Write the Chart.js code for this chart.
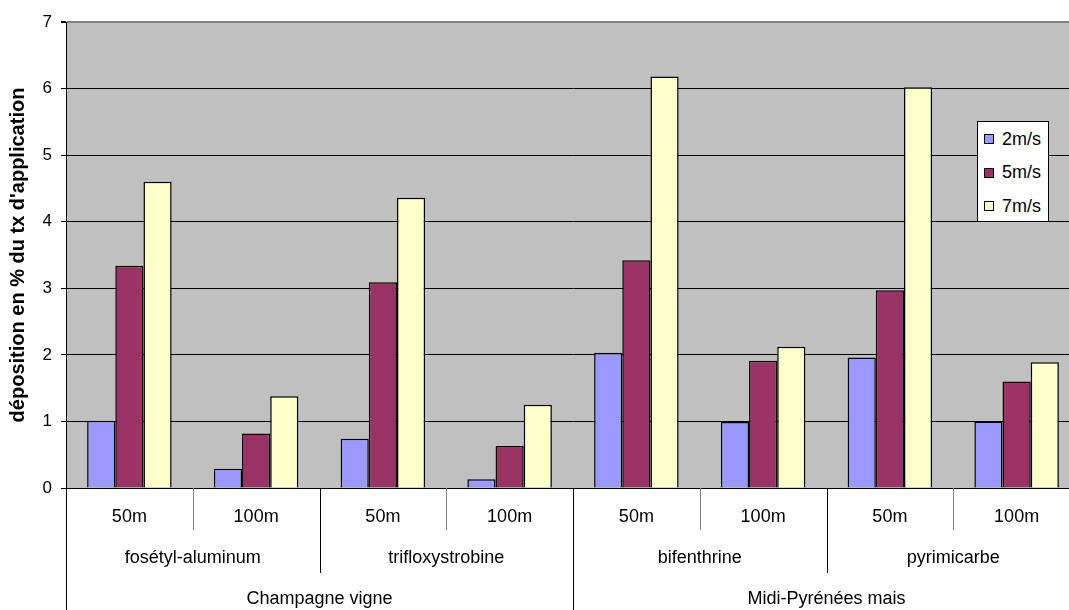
<!DOCTYPE html>
<html>
<head>
<meta charset="utf-8">
<script src="https://cdn.jsdelivr.net/npm/chart.js@4/dist/chart.umd.min.js"></script>
<style>
  html, body { margin: 0; padding: 0; background: #fff; overflow: hidden; }
  #wrap { position: relative; width: 1069px; height: 610px; overflow: hidden; }
  #chart { position: absolute; left: 0; top: 0; }
  #legend {
    position: absolute; left: 977px; top: 121px; width: 72px; height: 101px;
    box-sizing: border-box; border: 1px solid #000; background: #fff;
    font-family: "Liberation Sans", Arial, sans-serif; font-size: 18px; color: #000;
  }
  #legend .item { position: absolute; left: 6px; height: 20px; display: flex; align-items: center; }
  #legend .sw { width: 10px; height: 10px; box-sizing: border-box; border: 1px solid #000; margin-right: 8px; }
</style>
</head>
<body>
<div id="wrap">
  <canvas id="chart" width="1080" height="610"></canvas>
  <div id="legend"></div>
</div>
<script>
// Distance from the field (innermost level of the category axis)
const distances = ['50m', '100m', '50m', '100m', '50m', '100m', '50m', '100m'];
// Active substance (two distances each)
const substances = ['fosétyl-aluminum', 'trifloxystrobine', 'bifenthrine', 'pyrimicarbe'];
// Region / crop (two substances each)
const regions = ['Champagne vigne', 'Midi-Pyrénées mais'];

// Deposition (% of application rate) per wind speed
const wind2 = [1.01, 0.29, 0.74, 0.13, 2.03, 0.99, 1.96, 1.00];
const wind5 = [3.34, 0.82, 3.09, 0.63, 3.42, 1.91, 2.97, 1.60];
const wind7 = [4.60, 1.38, 4.36, 1.25, 6.18, 2.12, 6.02, 1.89];

const seriesNames = ['2m/s', '5m/s', '7m/s'];
const yTicks = [0, 1, 2, 3, 4, 5, 6, 7];

const FONT = '"Liberation Sans", Arial, sans-serif';

// Grey plot background
const plotBackground = {
  id: 'plotBackground',
  beforeDraw(chart) {
    const { ctx, chartArea: a } = chart;
    ctx.save();
    ctx.fillStyle = '#C0C0C0';
    ctx.fillRect(a.left, a.top, a.right - a.left, a.bottom - a.top);
    ctx.restore();
  }
};

// Three-level category axis: distance / substance / region, with separators
const groupedAxis = {
  id: 'groupedAxis',
  afterDraw(chart) {
    const { ctx, chartArea: a } = chart;
    const x = chart.scales.x;
    const n = distances.length;
    const step = x.getPixelForValue(1) - x.getPixelForValue(0);
    const edge = i => x.getPixelForValue(0) - step / 2 + i * step;
    const base = a.bottom;
    const H = chart.height;

    ctx.save();
    // separators; the outermost ones run down to the bottom edge
    for (let i = 0; i <= n; i++) {
      let end, color;
      if (i % 4 === 0) { end = H; color = '#000'; }
      else if (i % 2 === 0) { end = base + 85; color = '#000'; }
      else { end = base + 42; color = '#808080'; }
      const px = Math.round(edge(i)) + 0.5;
      ctx.beginPath();
      ctx.strokeStyle = color;
      ctx.lineWidth = 1;
      ctx.moveTo(px, base);
      ctx.lineTo(px, end);
      ctx.stroke();
    }
    // labels
    ctx.fillStyle = '#000';
    ctx.font = '18px ' + FONT;
    ctx.textAlign = 'center';
    ctx.textBaseline = 'middle';
    distances.forEach((t, i) => ctx.fillText(t, x.getPixelForValue(i), base + 29));
    substances.forEach((t, g) => ctx.fillText(t, (edge(2 * g) + edge(2 * g + 2)) / 2, base + 70));
    regions.forEach((t, r) => ctx.fillText(t, (edge(4 * r) + edge(4 * r + 4)) / 2, base + 111));
    ctx.restore();
  }
};

const chart = new Chart(document.getElementById('chart'), {
  type: 'bar',
  data: {
    labels: distances,
    datasets: [
      { label: seriesNames[0], data: wind2, backgroundColor: '#9999FF' },
      { label: seriesNames[1], data: wind5, backgroundColor: '#993366' },
      { label: seriesNames[2], data: wind7, backgroundColor: '#FFFFCC' }
    ].map(d => Object.assign(d, {
      borderColor: '#000', borderWidth: 1.5, borderSkipped: 'bottom',
      barPercentage: 1, categoryPercentage: 2 / 3
    }))
  },
  options: {
    responsive: false,
    animation: false,
    layout: { padding: { top: 22, bottom: 122, left: 0, right: 0 } },
    plugins: { legend: { display: false }, tooltip: { enabled: false }, title: { display: false } },
    scales: {
      x: { display: false },
      y: {
        min: 0, max: 7,
        afterFit(scale) { scale.width = 66; },
        afterBuildTicks(scale) { scale.ticks = yTicks.map(v => ({ value: v })); },
        border: { display: true, color: '#000', width: 1 },
        grid: {
          color: c => (c.tick && c.tick.value === 7) ? '#808080' : '#000',
          lineWidth: c => (c.tick && c.tick.value === 7) ? 2 : 1,
          tickColor: '#000',
          tickLength: 5
        },
        ticks: {
          padding: 9,
          color: '#000',
          font: { family: FONT, size: 17 }
        },
        title: {
          display: true,
          text: "déposition en % du tx d'application",
          color: '#000',
          font: { family: FONT, size: 20, weight: 'bold' },
          padding: { top: 6, bottom: 0 }
        }
      }
    }
  },
  plugins: [plotBackground, groupedAxis]
});

// Legend box built from the datasets
const legend = document.getElementById('legend');
const rowTops = [7, 40.5, 74];
chart.data.datasets.forEach((d, i) => {
  const item = document.createElement('div');
  item.className = 'item';
  item.style.top = rowTops[i] + 'px';
  const sw = document.createElement('span');
  sw.className = 'sw';
  sw.style.background = d.backgroundColor;
  const tx = document.createElement('span');
  tx.textContent = d.label;
  item.appendChild(sw);
  item.appendChild(tx);
  legend.appendChild(item);
});
</script>
</body>
</html>
